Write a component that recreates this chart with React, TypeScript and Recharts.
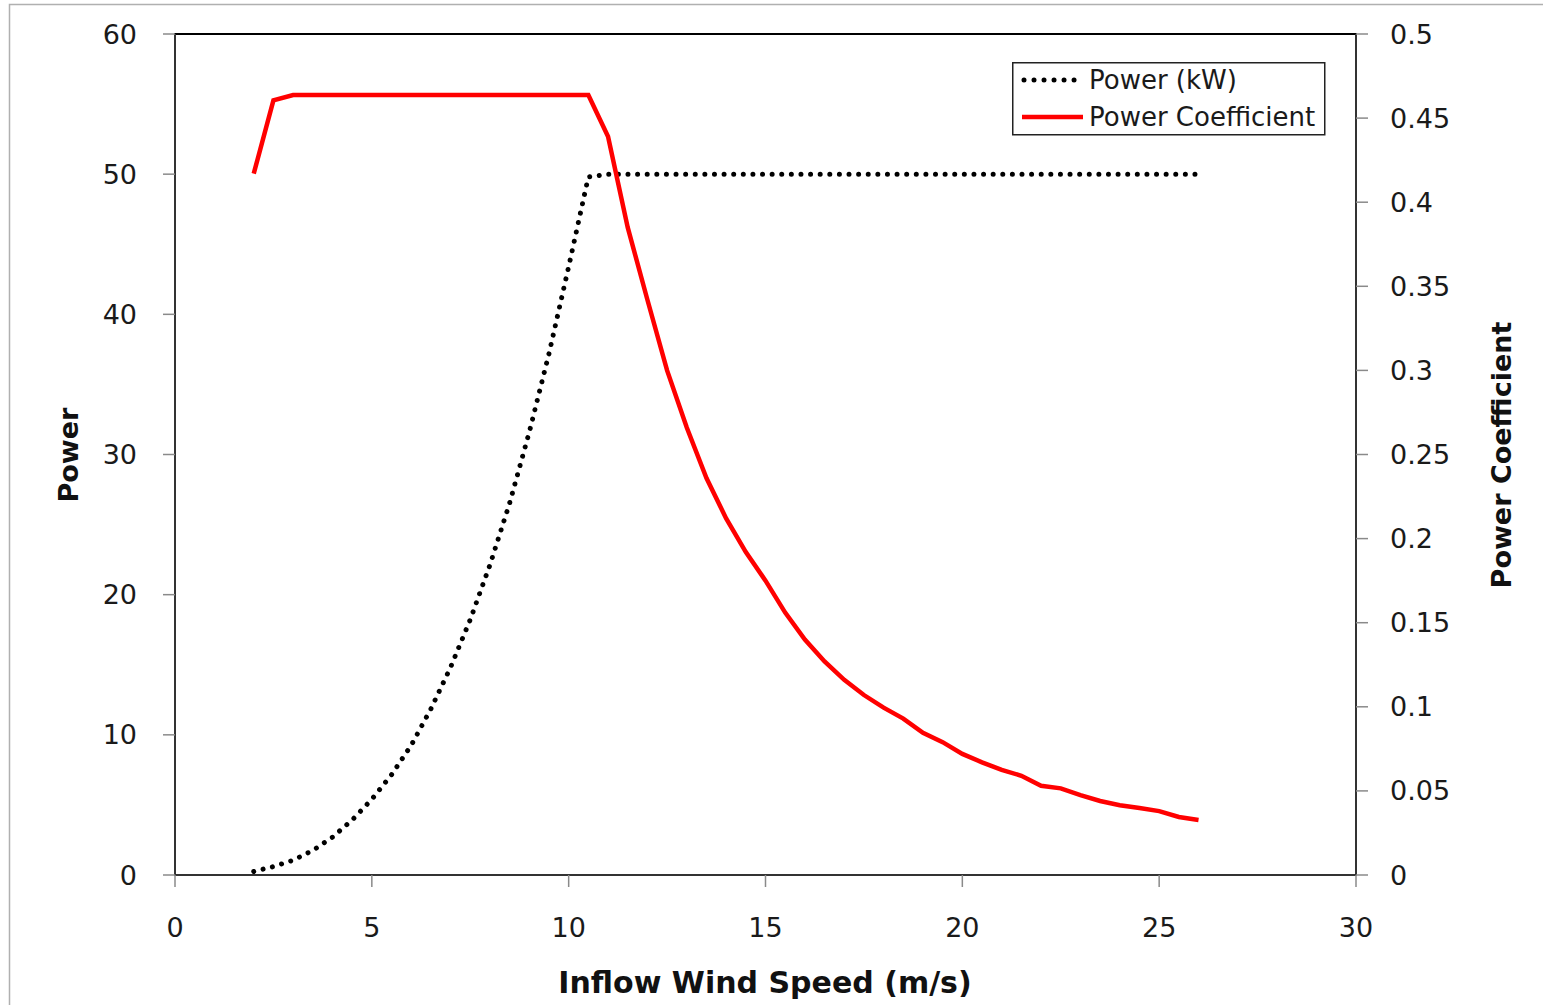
import React from 'react';
import { LineChart, Line, XAxis, YAxis, Legend, ReferenceArea } from 'recharts';

const windSpeed = [
  2, 2.5, 3, 3.5, 4, 4.5, 5, 5.5, 6, 6.5, 7, 7.5, 8, 8.5, 9, 9.5, 10, 10.5,
  11, 11.5, 12, 12.5, 13, 13.5, 14, 14.5, 15, 15.5, 16, 16.5, 17, 17.5, 18, 18.5,
  19, 19.5, 20, 20.5, 21, 21.5, 22, 22.5, 23, 23.5, 24, 24.5, 25, 25.5, 26,
];

const powerKW = [
  0.25, 0.6, 1.05, 1.75, 2.7, 3.92, 5.4, 7.15, 9.25, 11.85, 14.82, 18.22, 22.12, 26.53, 31.6, 37.2, 43.4, 49.8,
  50, 50, 50, 50, 50, 50, 50, 50, 50, 50, 50, 50, 50, 50, 50, 50,
  50, 50, 50, 50, 50, 50, 50, 50, 50, 50, 50, 50, 50, 50, 50,
];

const powerCoefficient = [
  0.417, 0.4605, 0.4637, 0.4637, 0.4637, 0.4637, 0.4637, 0.4637, 0.4637, 0.4637, 0.4637, 0.4637, 0.4637, 0.4637, 0.4637, 0.4637, 0.4637, 0.4637,
  0.439, 0.385, 0.342, 0.3, 0.266, 0.236, 0.212, 0.192, 0.175, 0.156, 0.14, 0.127, 0.116, 0.107, 0.0995, 0.093,
  0.0845, 0.079, 0.072, 0.067, 0.0625, 0.059, 0.053, 0.0515, 0.0475, 0.044, 0.0415, 0.0398, 0.038, 0.0345, 0.0327,
];

const xTicks = [0, 5, 10, 15, 20, 25, 30];
const leftTicks = [0, 10, 20, 30, 40, 50, 60];
const rightTicks = [0, 0.05, 0.1, 0.15, 0.2, 0.25, 0.3, 0.35, 0.4, 0.45, 0.5];

const seriesNames = { power: 'Power (kW)', cp: 'Power Coefficient' };

const rows = windSpeed.map((v, i) => ({ v, power: powerKW[i], cp: powerCoefficient[i] }));

const FONT = 'DejaVu Sans';
const tickStyle = { fontSize: 27, fill: '#1a1a1a', fontFamily: FONT };
const tickLineStyle = { stroke: '#8a8a8a', strokeWidth: 1.5 };
const axisLineStyle = { stroke: '#333', strokeWidth: 2 };

const LegendBox = () => (
  <svg width={314} height={74} style={{ display: 'block' }}>
    <rect x={0.75} y={0.75} width={312} height={72} fill="#fff" stroke="#222" strokeWidth={1.5} />
    <line x1={12} y1={18} x2={66} y2={18} stroke="#000" strokeWidth={5} strokeDasharray="0.01 10" strokeLinecap="round" />
    <text x={77} y={27} fontSize={26} fontFamily={FONT} fill="#1a1a1a">{seriesNames.power}</text>
    <line x1={10} y1={55} x2={71} y2={55} stroke="#ff0000" strokeWidth={4.5} />
    <text x={77} y={64} fontSize={26} fontFamily={FONT} fill="#1a1a1a">{seriesNames.cp}</text>
  </svg>
);

export default function App() {
  return (
    <div style={{ position: 'absolute', left: 0, top: 0, width: 1543, height: 1005, overflow: 'hidden', background: '#fff' }}>
      <LineChart width={1543} height={1005} data={rows} margin={{ top: 34, right: 107, bottom: 70, left: 95 }}>
        <XAxis
          dataKey="v"
          type="number"
          domain={[0, 30]}
          ticks={xTicks}
          interval={0}
          height={60}
          tick={tickStyle}
          tickSize={12}
          tickMargin={31}
          tickLine={tickLineStyle}
          axisLine={axisLineStyle}
          allowDataOverflow
        />
        <YAxis
          yAxisId="left"
          orientation="left"
          domain={[0, 60]}
          ticks={leftTicks}
          interval={0}
          width={80}
          tick={tickStyle}
          tickSize={12}
          tickMargin={26}
          tickLine={tickLineStyle}
          axisLine={axisLineStyle}
        />
        <YAxis
          yAxisId="right"
          orientation="right"
          domain={[0, 0.5]}
          ticks={rightTicks}
          interval={0}
          width={80}
          tick={{ ...tickStyle, textAnchor: 'start' }}
          tickSize={12}
          tickMargin={22}
          tickLine={tickLineStyle}
          axisLine={axisLineStyle}
        />
        <ReferenceArea
          yAxisId="left"
          x1={0}
          x2={30}
          y1={0}
          y2={60}
          fill="none"
          fillOpacity={0}
          stroke="#000"
          strokeWidth={2}
          ifOverflow="visible"
        />
        <Line
          yAxisId="left"
          type="linear"
          dataKey="power"
          name={seriesNames.power}
          stroke="#000"
          strokeWidth={5}
          strokeDasharray="0.01 9.6"
          strokeLinecap="round"
          dot={false}
          activeDot={false}
          isAnimationActive={false}
        />
        <Line
          yAxisId="right"
          type="linear"
          dataKey="cp"
          name={seriesNames.cp}
          stroke="#ff0000"
          strokeWidth={4.5}
          dot={false}
          activeDot={false}
          isAnimationActive={false}
        />
        <Legend
          layout="horizontal"
          align="center"
          verticalAlign="middle"
          content={() => <LegendBox />}
          wrapperStyle={{ position: 'absolute', left: 1012, top: 62, width: 314, height: 74, bottom: 'auto', right: 'auto' }}
        />
      </LineChart>
      <svg width={1543} height={1005} style={{ position: 'absolute', left: 0, top: 0, pointerEvents: 'none' }}>
        <rect x={9.5} y={4.5} width={1700} height={1200} fill="none" stroke="#b0b0b0" strokeWidth={1.5} />
        <text x={78} y={455} transform="rotate(-90 78 455)" textAnchor="middle" fontSize={27} fontWeight="bold" fontFamily={FONT} fill="#111">Power</text>
        <text x={1511} y={455} transform="rotate(-90 1511 455)" textAnchor="middle" fontSize={27} fontWeight="bold" fontFamily={FONT} fill="#111">Power Coefficient</text>
        <text x={765} y={993} textAnchor="middle" fontSize={30} fontWeight="bold" fontFamily={FONT} fill="#111">Inflow Wind Speed (m/s)</text>
      </svg>
    </div>
  );
}
